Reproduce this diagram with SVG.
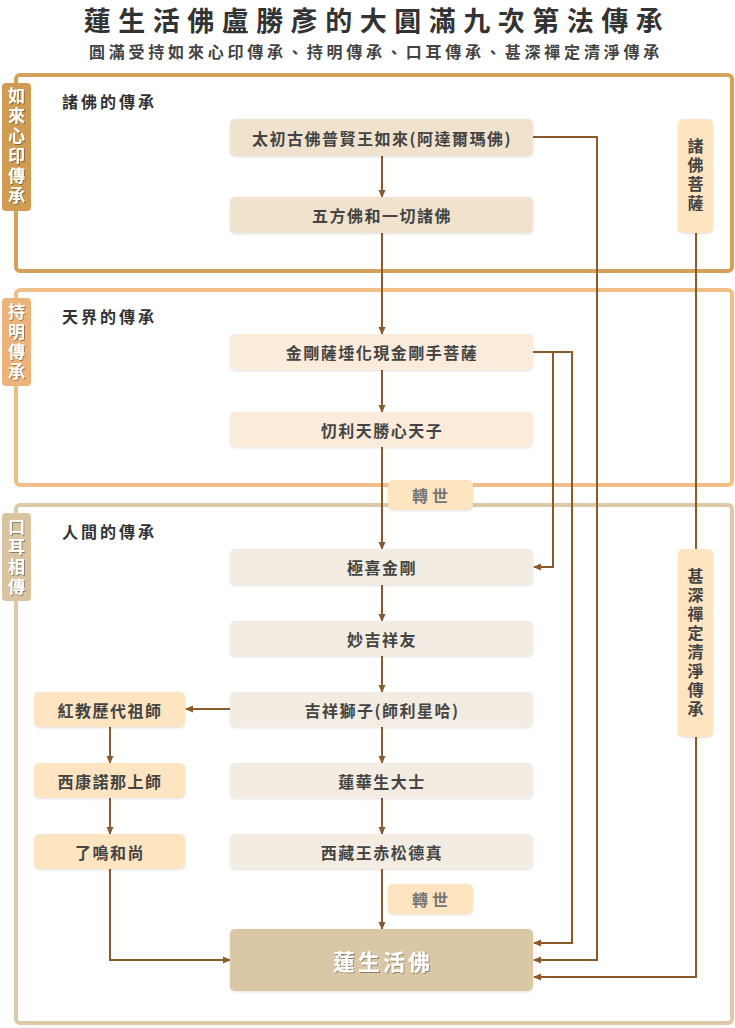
<svg xmlns="http://www.w3.org/2000/svg" width="735" height="1028" viewBox="0 0 735 1028">
<defs>
<filter id="sh" x="-10%" y="-20%" width="120%" height="150%"><feDropShadow dx="0" dy="1" stdDeviation="1" flood-color="#000" flood-opacity="0.12"/></filter>
<filter id="ts" x="-20%" y="-20%" width="140%" height="140%"><feDropShadow dx="1" dy="1" stdDeviation="0.6" flood-color="#000" flood-opacity="0.35"/></filter>
<marker id="ah" viewBox="0 0 8 8" refX="7" refY="4" markerWidth="8" markerHeight="8" markerUnits="userSpaceOnUse" orient="auto"><path d="M0,0.5 L8,4 L0,7.5 Z" fill="#8b5a2b"/></marker>
<style>
text{font-family:"Noto Sans CJK TC","Noto Sans CJK SC",sans-serif;font-weight:bold}
.title{font-size:27px;fill:#333;letter-spacing:7.5px}
.sub{font-size:16px;fill:#444;letter-spacing:3.8px}
.head{font-size:16px;fill:#333;letter-spacing:3px}
.nt{font-size:16px;fill:#444;letter-spacing:1.5px}
.tab{font-size:17px;fill:#fff;writing-mode:vertical-rl;letter-spacing:3px}
.vt{font-size:16px;fill:#444;writing-mode:vertical-rl;letter-spacing:3px}
.gray{font-size:16px;fill:#777;letter-spacing:4px}
.big{font-size:22px;fill:#fff;letter-spacing:3px}
.sec{fill:none;stroke-width:4}
.n1{fill:#f0e2cc}
.n2{fill:#faebda}
.n3{fill:#f3ece2}
.na{fill:#fde5c1}
.c{fill:none;stroke:#8b5a2b;stroke-width:2}
.ca{fill:none;stroke:#8b5a2b;stroke-width:2;marker-end:url(#ah)}
</style>
</defs>
<rect width="735" height="1028" fill="#fff"/>
<g id="title">
<text class="title" x="377" y="19.5" text-anchor="middle" dominant-baseline="central">蓮生活佛盧勝彥的大圓滿九次第法傳承</text>
<text class="sub" x="376" y="50.5" text-anchor="middle" dominant-baseline="central">圓滿受持如來心印傳承、持明傳承、口耳傳承、甚深禪定清淨傳承</text>
</g>
<g id="section1">
<rect class="sec" x="16" y="75" width="716" height="196" rx="4" stroke="#d4a15a"/>
<rect x="2" y="83" width="29" height="128" rx="4" fill="#d09b52"/>
<text class="tab" x="16.5" y="147.5" text-anchor="middle" filter="url(#ts)">如來心印傳承</text>
<text class="head" x="62" y="101" dominant-baseline="central">諸佛的傳承</text>
</g>
<g id="section2">
<rect class="sec" x="16" y="290" width="716" height="195" rx="4" stroke="#f0bf88"/>
<rect x="2" y="298" width="29" height="88" rx="4" fill="#ecb47a"/>
<text class="tab" x="16.5" y="343.5" text-anchor="middle" filter="url(#ts)">持明傳承</text>
<text class="head" x="62" y="316" dominant-baseline="central">天界的傳承</text>
</g>
<g id="section3">
<rect class="sec" x="16" y="505" width="716" height="518" rx="4" stroke="#dcc9a6"/>
<rect x="2" y="513" width="29" height="88" rx="4" fill="#d9c3a0"/>
<text class="tab" x="16.5" y="558.5" text-anchor="middle" filter="url(#ts)">口耳相傳</text>
<text class="head" x="62" y="531" dominant-baseline="central">人間的傳承</text>
</g>
<g id="connectors">
<line class="ca" x1="382" y1="156" x2="382" y2="197"/>
<line class="ca" x1="382" y1="233" x2="382" y2="334"/>
<line class="ca" x1="382" y1="370" x2="382" y2="412"/>
<line class="ca" x1="382" y1="447" x2="382" y2="549"/>
<line class="ca" x1="382" y1="585" x2="382" y2="621"/>
<line class="ca" x1="382" y1="656" x2="382" y2="692"/>
<line class="ca" x1="382" y1="727" x2="382" y2="763"/>
<line class="ca" x1="382" y1="798" x2="382" y2="834"/>
<line class="ca" x1="382" y1="869" x2="382" y2="929"/>
<line class="ca" x1="230" y1="709" x2="186" y2="709"/>
<line class="ca" x1="110" y1="727" x2="110" y2="763"/>
<line class="ca" x1="110" y1="798" x2="110" y2="834"/>
<polyline class="ca" points="110,869 110,960 230,960"/>
<polyline class="ca" points="533,352 553,352 553,567 534,567"/>
<polyline class="ca" points="533,352 572,352 572,943 534,943"/>
<polyline class="ca" points="533,137 597,137 597,960 534,960"/>
<line class="c" x1="696" y1="233" x2="696" y2="549"/>
<polyline class="ca" points="696,737 696,977 534,977"/>
</g>
<g id="n-taichu"><rect class="n1" x="230" y="119" width="303" height="37" rx="5" filter="url(#sh)"/><text class="nt" x="382" y="137.5" text-anchor="middle" dominant-baseline="central">太初古佛普賢王如來(阿達爾瑪佛)</text></g>
<g id="n-wufang"><rect class="n1" x="230" y="197" width="303" height="36" rx="5" filter="url(#sh)"/><text class="nt" x="382" y="215" text-anchor="middle" dominant-baseline="central">五方佛和一切諸佛</text></g>
<g id="n-zhufopusa"><rect class="na" x="678" y="119" width="35" height="114" rx="5" filter="url(#sh)"/><text class="vt" x="695.5" y="176" text-anchor="middle">諸佛菩薩</text></g>
<g id="n-jingang"><rect class="n2" x="230" y="334" width="303" height="36" rx="5" filter="url(#sh)"/><text class="nt" x="382" y="352" text-anchor="middle" dominant-baseline="central">金剛薩埵化現金剛手菩薩</text></g>
<g id="n-daoli"><rect class="n2" x="230" y="412" width="303" height="35" rx="5" filter="url(#sh)"/><text class="nt" x="382" y="429.5" text-anchor="middle" dominant-baseline="central">忉利天勝心天子</text></g>
<g id="n-zhuanshi1"><rect class="na" x="388" y="480" width="85" height="30" rx="5" filter="url(#sh)"/><text class="gray" x="432" y="495" text-anchor="middle" dominant-baseline="central">轉世</text></g>
<g id="n-jixi"><rect class="n3" x="230" y="549" width="303" height="36" rx="5" filter="url(#sh)"/><text class="nt" x="382" y="567" text-anchor="middle" dominant-baseline="central">極喜金剛</text></g>
<g id="n-miaojixiang"><rect class="n3" x="230" y="621" width="303" height="35" rx="5" filter="url(#sh)"/><text class="nt" x="382" y="638.5" text-anchor="middle" dominant-baseline="central">妙吉祥友</text></g>
<g id="n-jixiangshizi"><rect class="n3" x="230" y="692" width="303" height="35" rx="5" filter="url(#sh)"/><text class="nt" x="382" y="709.5" text-anchor="middle" dominant-baseline="central">吉祥獅子(師利星哈)</text></g>
<g id="n-lianhuasheng"><rect class="n3" x="230" y="763" width="303" height="35" rx="5" filter="url(#sh)"/><text class="nt" x="382" y="780.5" text-anchor="middle" dominant-baseline="central">蓮華生大士</text></g>
<g id="n-chisong"><rect class="n3" x="230" y="834" width="303" height="35" rx="5" filter="url(#sh)"/><text class="nt" x="382" y="851.5" text-anchor="middle" dominant-baseline="central">西藏王赤松德真</text></g>
<g id="n-hongjiao"><rect class="na" x="34" y="692" width="151" height="35" rx="5" filter="url(#sh)"/><text class="nt" x="110" y="709.5" text-anchor="middle" dominant-baseline="central">紅教歷代祖師</text></g>
<g id="n-nuona"><rect class="na" x="34" y="763" width="151" height="35" rx="5" filter="url(#sh)"/><text class="nt" x="110" y="780.5" text-anchor="middle" dominant-baseline="central">西康諾那上師</text></g>
<g id="n-liaoming"><rect class="na" x="34" y="834" width="151" height="35" rx="5" filter="url(#sh)"/><text class="nt" x="110" y="851.5" text-anchor="middle" dominant-baseline="central">了鳴和尚</text></g>
<g id="n-shenshen"><rect class="na" x="678" y="549" width="35" height="188" rx="5" filter="url(#sh)"/><text class="vt" x="695.5" y="643.5" text-anchor="middle">甚深禪定清淨傳承</text></g>
<g id="n-zhuanshi2"><rect class="na" x="388" y="884" width="85" height="30" rx="5" filter="url(#sh)"/><text class="gray" x="432" y="899" text-anchor="middle" dominant-baseline="central">轉世</text></g>
<g id="n-liansheng"><rect x="230" y="929" width="303" height="62" rx="5" fill="#d9c7a5" filter="url(#sh)"/><text class="big" x="383" y="960" text-anchor="middle" dominant-baseline="central" filter="url(#ts)">蓮生活佛</text></g>
</svg>
